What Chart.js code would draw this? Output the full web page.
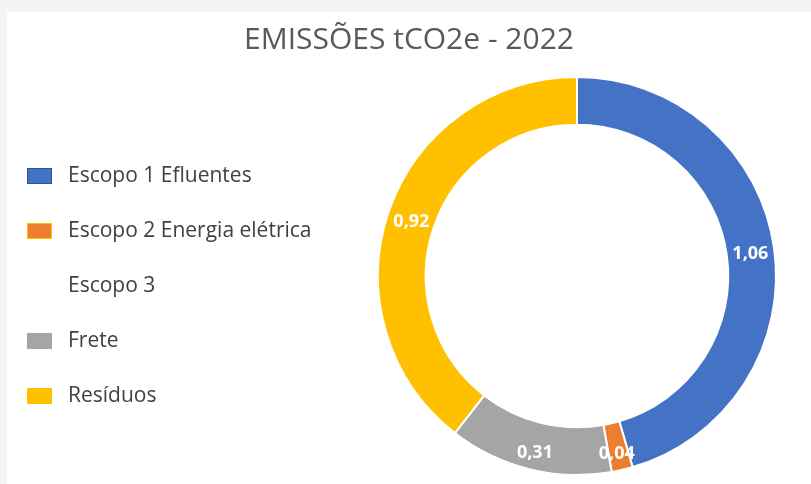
<!DOCTYPE html>
<html>
<head>
<meta charset="utf-8">
<script src="https://cdn.jsdelivr.net/npm/chart.js@4"></script>
<style>
  html, body { margin: 0; padding: 0; }
  body { width: 811px; height: 484px; background: #f4f4f4; position: relative; overflow: hidden; font-family: "Open Sans", sans-serif; }
  #frame { position: absolute; left: 7px; top: 12px; width: 804px; height: 472px; background: #ffffff; }
  #chart { position: absolute; left: 0; top: 0; }
  #title { position: absolute; left: 0; width: 818px; top: 17px; text-align: center; font-size: 30px; color: #595959; }
  #legend { position: absolute; left: 27px; top: 160px; }
  .item { height: 55px; display: flex; align-items: flex-start; font-size: 21px; color: #404040; line-height: 29px; }
  .box { width: 25px; height: 16px; margin-top: 8px; margin-right: 16px; box-sizing: border-box; border: 1px solid transparent; }
</style>
</head>
<body>
<div id="frame"></div>
<canvas id="chart" width="811" height="484"></canvas>
<div id="title">EMISSÕES tCO2e - 2022</div>
<div id="legend"></div>
<script>
// chart values
const categories = ["Escopo 1 Efluentes", "Escopo 2 Energia elétrica", "Escopo 3", "Frete", "Resíduos"];
const values = [1.06, 0.04, 0, 0.31, 0.92];
const colors = ["#4472C4", "#ED7D31", "rgba(0,0,0,0)", "#A5A5A5", "#FFC000"];
const legendBorders = ["#2F528F", "#FFC000", "rgba(0,0,0,0)", "#A5A5A5", "#FFC000"];

// legend built from the same arrays
const legend = document.getElementById("legend");
categories.forEach((name, i) => {
  const row = document.createElement("div");
  row.className = "item";
  const box = document.createElement("div");
  box.className = "box";
  box.style.background = colors[i];
  box.style.borderColor = legendBorders[i];
  row.appendChild(box);
  const label = document.createElement("span");
  label.textContent = name;
  row.appendChild(label);
  legend.appendChild(row);
});

// white value labels in the middle of each ring segment
const sliceLabels = {
  id: "sliceLabels",
  afterDatasetsDraw(chart) {
    const ctx = chart.ctx;
    const meta = chart.getDatasetMeta(0);
    ctx.save();
    ctx.font = "bold 18px 'Open Sans', sans-serif";
    ctx.fillStyle = "#ffffff";
    ctx.textAlign = "center";
    ctx.textBaseline = "middle";
    meta.data.forEach((arc, i) => {
      const v = values[i];
      if (!v) return;
      const p = arc.tooltipPosition();
      const dy = p.y > 400 ? 7 : 3;
      ctx.fillText(v.toFixed(2).replace(".", ","), p.x, p.y + dy);
    });
    ctx.restore();
  }
};

new Chart(document.getElementById("chart"), {
  type: "doughnut",
  data: {
    labels: categories,
    datasets: [{
      data: values,
      backgroundColor: colors,
      borderColor: "#ffffff",
      borderWidth: 2,
      hoverOffset: 0
    }]
  },
  options: {
    responsive: false,
    animation: false,
    cutout: "76%",
    layout: { padding: { left: 377, right: 34, top: 76, bottom: 8 } },
    plugins: {
      legend: { display: false },
      title: { display: false },
      tooltip: { enabled: false }
    }
  },
  plugins: [sliceLabels]
});
</script>
</body>
</html>
